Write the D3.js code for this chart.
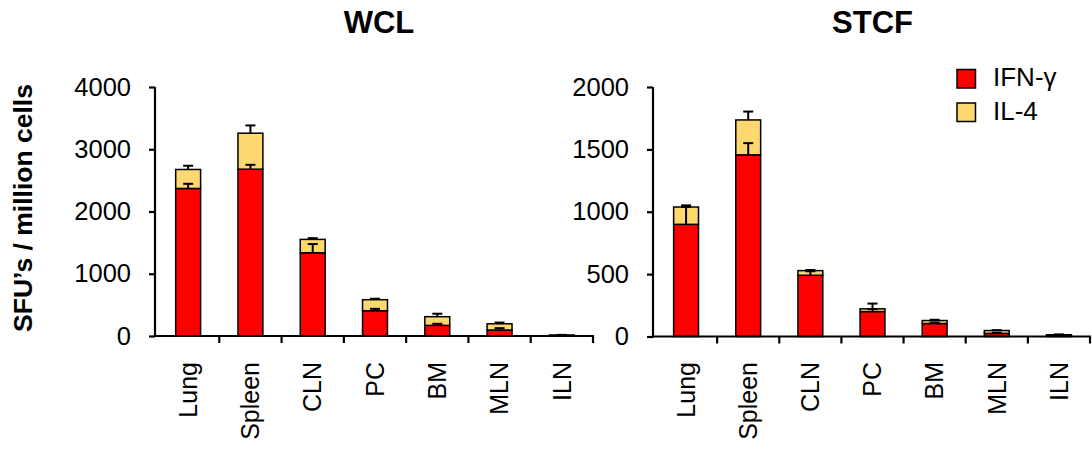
<!DOCTYPE html>
<html>
<head>
<meta charset="utf-8">
<script src="https://cdn.jsdelivr.net/npm/d3@7"></script>
<style>
  body { margin: 0; background: #fff; }
  svg { display: block; font-family: "Liberation Sans", Arial, Helvetica, sans-serif; }
</style>
</head>
<body>
<svg id="chart" width="1092" height="450"></svg>
<script>
// ---- data ----
const categories = ["Lung", "Spleen", "CLN", "PC", "BM", "MLN", "ILN"];
const series = ["IFN-γ", "IL-4"];
const colors = ["#FF0000", "#FDD86E"];

// WCL panel
const wclIFN    = [2370, 2680, 1337, 406, 171, 96, 8];
const wclIFNerr = [75, 70, 140, 30, 25, 30, 0];
const wclIL4    = [305, 578, 215, 177, 139, 100, 7];
const wclIL4err = [60, 125, 20, 16, 48, 20, 3];
const wclTicks  = [0, 1000, 2000, 3000, 4000];

// STCF panel
const stcfIFN    = [899, 1456, 491, 200, 104, 25, 8];
const stcfIFNerr = [139, 94, 32, 20, 8, 5, 0];
const stcfIL4    = [139, 280, 37, 22, 24, 23, 6];
const stcfIL4err = [13, 67, 5, 42, 6, 3, 3];
const stcfTicks  = [0, 500, 1000, 1500, 2000];

const svg = d3.select("#chart");

function panel(cfg) {
  const g = svg.append("g");
  const x = d3.scaleBand().domain(categories).range([cfg.x0, cfg.x1]).padding(0);
  const y = d3.scaleLinear().domain([0, cfg.max]).range([cfg.yBottom, cfg.yTop]);
  const bw = x.bandwidth() * 0.4;

  // bars
  categories.forEach((c, i) => {
    const bx = x(c) + (x.bandwidth() - bw) / 2;
    const cx = x(c) + x.bandwidth() / 2;
    const ifn = cfg.ifn[i], il4 = cfg.il4[i];
    const total = ifn + il4;
    g.append("rect").attr("x", bx).attr("width", bw)
      .attr("y", y(ifn)).attr("height", y(0) - y(ifn))
      .attr("fill", colors[0]).attr("stroke", "#000").attr("stroke-width", 1.5);
    g.append("rect").attr("x", bx).attr("width", bw)
      .attr("y", y(total)).attr("height", y(ifn) - y(total))
      .attr("fill", colors[1]).attr("stroke", "#000").attr("stroke-width", 1.5);
    [[ifn, cfg.ifnErr[i]], [total, cfg.il4Err[i]]].forEach(([v, e]) => {
      if (e <= 0) return;
      g.append("line").attr("x1", cx).attr("x2", cx)
        .attr("y1", y(v)).attr("y2", y(v + e))
        .attr("stroke", "#000").attr("stroke-width", 2);
      g.append("line").attr("x1", cx - 5).attr("x2", cx + 5)
        .attr("y1", y(v + e)).attr("y2", y(v + e))
        .attr("stroke", "#000").attr("stroke-width", 2);
    });
  });

  // y axis
  const ya = g.append("g").attr("transform", `translate(${cfg.yAxisX},0)`)
    .call(d3.axisLeft(y).tickValues(cfg.ticks).tickSize(6).tickSizeOuter(0).tickPadding(18).tickFormat(d3.format("d")));
  ya.select(".domain").attr("stroke-width", 2.2).attr("d", `M0,${cfg.yTop}V${cfg.yBottom + 1}`);
  ya.selectAll(".tick line").attr("stroke-width", 2.2);
  ya.selectAll(".tick text").attr("font-size", "25.5px").attr("fill", "#000")
    .attr("font-family", '"Liberation Sans", Arial, sans-serif');

  // x axis line + boundary ticks
  g.append("line").attr("x1", cfg.yAxisX - 1).attr("x2", cfg.x1 + 1)
    .attr("y1", y(0)).attr("y2", y(0)).attr("stroke", "#000").attr("stroke-width", 2.2);
  categories.forEach(c => {
    const tx = x(c) + x.bandwidth();
    g.append("line").attr("x1", tx).attr("x2", tx)
      .attr("y1", y(0)).attr("y2", y(0) + 7).attr("stroke", "#000").attr("stroke-width", 2.2);
  });
  // x labels
  categories.forEach(c => {
    const cx = x(c) + x.bandwidth() / 2;
    g.append("text")
      .attr("transform", `translate(${cx},${362}) rotate(-90)`)
      .attr("dy", "0.35em")
      .attr("text-anchor", "end")
      .attr("font-size", "25px")
      .text(c);
  });

  // title
  g.append("text").attr("x", cfg.titleX).attr("y", 33)
    .attr("text-anchor", "middle").attr("font-weight", "bold").attr("font-size", "31px")
    .text(cfg.title);
}

panel({ title: "WCL", titleX: 379, x0: 157, x1: 593, yAxisX: 155, yTop: 87, yBottom: 336,
  max: 4000, ticks: wclTicks, ifn: wclIFN, ifnErr: wclIFNerr, il4: wclIL4, il4Err: wclIL4err });
panel({ title: "STCF", titleX: 872.5, x0: 655, x1: 1090, yAxisX: 653, yTop: 87, yBottom: 336.5,
  max: 2000, ticks: stcfTicks, ifn: stcfIFN, ifnErr: stcfIFNerr, il4: stcfIL4, il4Err: stcfIL4err });

// y axis title
svg.append("text")
  .attr("transform", "translate(23,208) rotate(-90)")
  .attr("dy", "0.35em")
  .attr("text-anchor", "middle").attr("font-weight", "bold").attr("font-size", "26.5px")
  .text("SFU’s / million cells");

// legend
const legend = svg.append("g");
series.forEach((s, i) => {
  legend.append("rect").attr("x", 957).attr("y", 69.5 + i * 33.5).attr("width", 18.5).attr("height", 18.5)
    .attr("fill", colors[i]).attr("stroke", "#000").attr("stroke-width", 1.5);
  legend.append("text").attr("x", 993).attr("y", 86 + i * 34)
    .attr("font-size", "26px").text(s);
});
</script>
</body>
</html>
